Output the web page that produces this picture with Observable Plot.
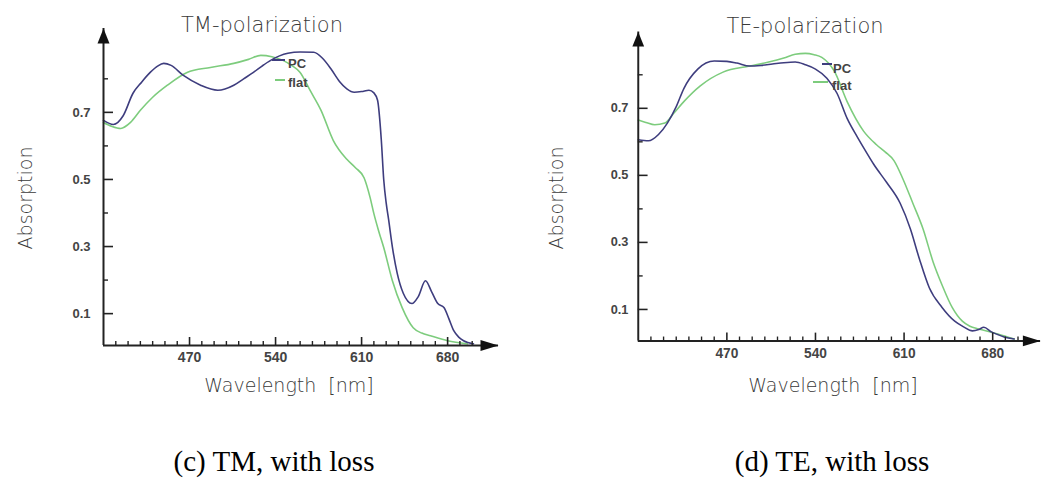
<!DOCTYPE html>
<html><head><meta charset="utf-8">
<script src="https://cdn.jsdelivr.net/npm/d3@7"></script>
<script src="https://cdn.jsdelivr.net/npm/@observablehq/plot@0.6"></script>
<style>
html,body{margin:0;padding:0;background:#fff;overflow:hidden;}
#wrap{position:relative;width:1043px;height:479px;overflow:hidden;background:#fff;}
.box{position:absolute;top:0;}
.t{position:absolute;white-space:pre;line-height:1;color:#333;transform:translate(-50%,-50%);}
.ttl{font-family:"DejaVu Sans",sans-serif;font-weight:200;font-size:21px;color:#3a3a3a;}
.ax{font-family:"DejaVu Sans",sans-serif;font-weight:200;font-size:19px;color:#3a3a3a;}
.rot{transform:translate(-50%,-50%) rotate(-90deg);}
.cap{font-family:"Liberation Serif","Times New Roman",serif;font-size:29px;color:#000;}
.lg{position:absolute;white-space:pre;line-height:1;font-family:"Liberation Sans",Arial,sans-serif;font-weight:bold;font-size:13px;color:#444;transform:translateY(-50%);}
.ln{position:absolute;height:2px;}
</style>
</head><body>
<div id="wrap"></div>
<script>
// ---- data ----
const tmPcWl   = [400,408,416,424,431,438,444,449,455,465,479,493,506,514,522,529,536,550,560,571,578,585,592,598,604,610,616,620,623,626,628,630,632,635,639,644,651,656,662,667,672,677,681,685,689,693,701];
const tmPcAbs  = [0.676,0.664,0.690,0.757,0.790,0.819,0.838,0.846,0.840,0.810,0.781,0.766,0.781,0.800,0.819,0.838,0.855,0.876,0.880,0.879,0.862,0.830,0.792,0.770,0.760,0.762,0.766,0.758,0.736,0.620,0.500,0.430,0.380,0.300,0.220,0.160,0.130,0.150,0.198,0.165,0.130,0.118,0.085,0.049,0.030,0.019,0.010];
const tmFlatWl  = [400,407,414,422,430,440,452,468,487,506,518,528,537,546,553,560,568,577,587,598,605,612,617,620,624,628,635,643,652,659,666,680,696];
const tmFlatAbs = [0.670,0.658,0.652,0.670,0.706,0.745,0.781,0.819,0.834,0.846,0.858,0.870,0.866,0.855,0.840,0.819,0.766,0.706,0.616,0.560,0.535,0.505,0.445,0.398,0.345,0.297,0.199,0.118,0.058,0.042,0.034,0.019,0.010];

const tePcWl   = [400,408,416,423,430,436,447,460,470,478,488,497,506,515,524,532,540,549,557,565,573,580,586,596,607,615,622,630,640,650,657,664,669,673,679,684,689,697];
const tePcAbs  = [0.606,0.603,0.622,0.656,0.705,0.759,0.817,0.841,0.840,0.835,0.826,0.828,0.832,0.836,0.838,0.830,0.817,0.790,0.745,0.670,0.615,0.570,0.533,0.480,0.416,0.340,0.252,0.164,0.106,0.065,0.048,0.036,0.040,0.047,0.033,0.025,0.018,0.012];
const teFlatWl  = [400,406,413,421,428,436,449,467,488,503,515,524,532,539,545,555,565,578,588,595,602,609,617,625,633,640,648,656,662,669,684,697];
const teFlatAbs = [0.665,0.658,0.651,0.656,0.685,0.720,0.767,0.808,0.826,0.838,0.850,0.861,0.864,0.860,0.852,0.810,0.720,0.632,0.592,0.570,0.544,0.490,0.416,0.340,0.241,0.173,0.106,0.065,0.050,0.042,0.027,0.012];

const yMajor = [0.1, 0.3, 0.5, 0.7];
const yMinor = [0.2, 0.4, 0.6, 0.8];
const xMajor = [470, 540, 610, 680];
const xMinor = [410,420,430,440,450,460,480,490,500,510,520,530,550,560,570,580,590,600,620,630,640,650,660,670,690,700];

const seriesNames = ["PC", "flat"];
const seriesColors = ["#3e3d7e", "#7dcc7d"];
const titles = ["TM-polarization", "TE-polarization"];
const yLabel = "Absorption";
const xLabel = "Wavelength  [nm]";
const captions = ["(c) TM, with loss", "(d) TE, with loss"];

// ---- helpers ----
const arrowUp = {draw(c){ c.moveTo(0,0); c.lineTo(6,15); c.lineTo(-6,15); c.closePath(); }};
const arrowRight = {draw(c){ c.moveTo(0,0); c.lineTo(-18,5.5); c.lineTo(-18,-5.5); c.closePath(); }};

function rows(wl, v){ return wl.map((w,i)=>({wl:w, v:v[i]})); }

function panel(o){
  const axisStyle = {stroke:"#222"};
  return Plot.plot({
    width:o.width, height:o.height,
    marginLeft:o.mL, marginRight:o.mR, marginTop:o.mT, marginBottom:o.mB,
    x:{domain:o.xDomain}, y:{domain:o.yDomain},
    style:{background:"transparent", fontFamily:"'Liberation Sans', Arial, sans-serif", overflow:"visible"},
    marks:[
      Plot.line(rows(o.flatWl,o.flatAbs), {x:"wl", y:"v", stroke:seriesColors[1], strokeWidth:1.6, curve:"monotone-x"}),
      Plot.line(rows(o.pcWl,o.pcAbs), {x:"wl", y:"v", stroke:seriesColors[0], strokeWidth:1.6, curve:"monotone-x"}),
      Plot.ruleX([o.xDomain[0]], {stroke:"#222", strokeWidth:2}),
      Plot.ruleY([o.yDomain[0]], {stroke:"#222", strokeWidth:2}),
      Plot.axisY({ticks:yMajor, tickSize:-10, tickFormat:()=>"", strokeWidth:1.6, label:null, ...axisStyle}),
      Plot.axisY({ticks:yMinor, tickSize:-5, tickFormat:()=>"", strokeWidth:1.4, label:null, ...axisStyle}),
      Plot.axisY({ticks:yMajor, tickSize:0, tickPadding:o.yPad, tickFormat:d3.format(".1f"), fontSize:13, fontWeight:"bold", fill:"#444", label:null}),
      Plot.axisX({ticks:xMajor, tickSize:-8, tickFormat:()=>"", strokeWidth:1.6, label:null, ...axisStyle}),
      Plot.axisX({ticks:xMinor, tickSize:-4, tickFormat:()=>"", strokeWidth:1.4, label:null, ...axisStyle}),
      Plot.axisX({ticks:xMajor, tickSize:0, tickPadding:7, tickFormat:d3.format("d"), fontSize:14, fontWeight:"bold", fill:"#444", label:null}),
      Plot.dot([0], {frameAnchor:"top-left", symbol:arrowUp, fill:"#111", stroke:"none"}),
      Plot.dot([0], {frameAnchor:"bottom-right", symbol:arrowRight, fill:"#111", stroke:"none"})
    ]
  });
}

const wrap = document.getElementById("wrap");
function place(node, left){ const d=document.createElement("div"); d.className="box"; d.style.left=left+"px"; d.appendChild(node); wrap.appendChild(d); }

place(panel({width:521, height:380, mL:103, mR:23, mT:28, mB:35, xDomain:[400,721.4], yDomain:[0.005,0.95], yPad:13,
  pcWl:tmPcWl, pcAbs:tmPcAbs, flatWl:tmFlatWl, flatAbs:tmFlatAbs}), 0);
place(panel({width:532, height:380, mL:119, mR:3, mT:32, mB:33, xDomain:[400,717.8], yDomain:[0.006,0.928], yPad:10,
  pcWl:tePcWl, pcAbs:tePcAbs, flatWl:teFlatWl, flatAbs:teFlatAbs}), 521);

function txt(s, cls, x, y){ const d=document.createElement("div"); d.className="t "+cls; d.textContent=s; d.style.left=x+"px"; d.style.top=y+"px"; wrap.appendChild(d); }
txt(titles[0], "ttl", 262, 25);
txt(titles[1], "ttl", 805, 26);
txt(yLabel, "ax rot", 25, 198);
txt(yLabel, "ax rot", 556, 198);
txt(xLabel, "ax", 289, 385);
txt(xLabel, "ax", 833, 385);
txt(captions[0], "cap", 274, 461);
txt(captions[1], "cap", 832, 461);

function legend(x0, x1, y, color, label, tx, ty){
  const l=document.createElement("div"); l.className="ln"; l.style.left=x0+"px"; l.style.width=(x1-x0)+"px"; l.style.top=(y-1)+"px"; l.style.background=color; wrap.appendChild(l);
  const t=document.createElement("div"); t.className="lg"; t.textContent=label; t.style.left=tx+"px"; t.style.top=ty+"px"; wrap.appendChild(t);
}
legend(272, 285, 60, seriesColors[0], seriesNames[0], 288, 63);
legend(275, 285, 80, seriesColors[1], seriesNames[1], 288, 82);
legend(822, 832, 64, seriesColors[0], seriesNames[0], 833, 68);
legend(813, 828, 82, seriesColors[1], seriesNames[1], 832, 85);
</script>
</body></html>
